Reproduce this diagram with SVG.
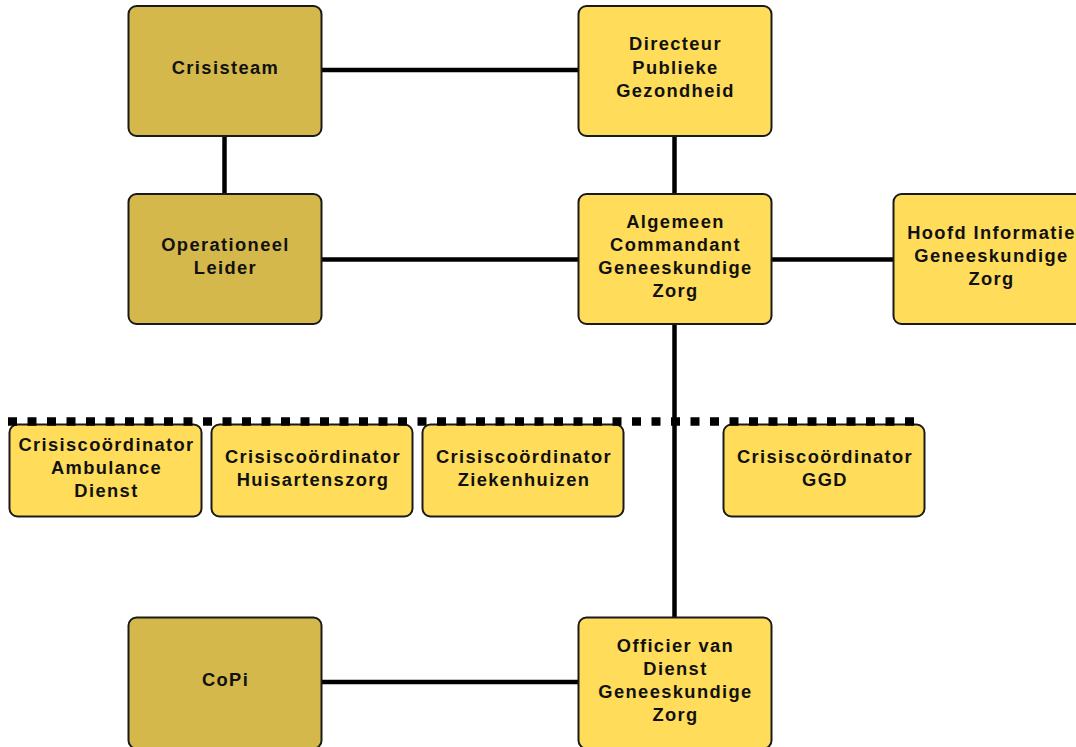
<svg xmlns="http://www.w3.org/2000/svg" width="1076" height="747" viewBox="0 0 1076 747">
<style>
.dark{fill:#d4b84b;stroke:#1a1a1a;stroke-width:2}
.light{fill:#ffdc59;stroke:#1a1a1a;stroke-width:2}
.t{font-family:"Liberation Sans",Arial,sans-serif;font-weight:bold;font-size:18.3px;letter-spacing:1.4px;fill:#111;text-anchor:middle}
.c{stroke:#000;stroke-width:4.5;fill:none}
.d{stroke:#000;stroke-width:8.5;fill:none;stroke-dasharray:9 10.5}
</style>
<rect width="1076" height="747" fill="#fff"/>
<g id="connectors">
<line class="c" x1="321" y1="70" x2="578" y2="70"/>
<line class="c" x1="224.5" y1="136" x2="224.5" y2="193"/>
<line class="c" x1="674.5" y1="136" x2="674.5" y2="193"/>
<line class="c" x1="321" y1="259.5" x2="578" y2="259.5"/>
<line class="c" x1="771" y1="259.5" x2="893" y2="259.5"/>
<line class="c" x1="674.5" y1="324" x2="674.5" y2="617"/>
<line class="c" x1="321" y1="682" x2="578" y2="682"/>
</g>
<g id="crisisteam"><rect class="dark" x="128.5" y="6" width="193" height="130" rx="8"/><text class="t" x="225.5" y="74">Crisisteam</text></g>
<g id="directeur"><rect class="light" x="578.5" y="6" width="193" height="130" rx="8"/><text class="t" x="675.5" y="50">Directeur</text><text class="t" x="675.5" y="73.5">Publieke</text><text class="t" x="675.5" y="96.5">Gezondheid</text></g>
<g id="operationeel"><rect class="dark" x="128.5" y="194" width="193" height="130" rx="8"/><text class="t" x="225.5" y="250.5">Operationeel</text><text class="t" x="225.5" y="273.5">Leider</text></g>
<g id="algemeen"><rect class="light" x="578.5" y="194" width="193" height="130" rx="8"/><text class="t" x="675.5" y="227.5">Algemeen</text><text class="t" x="675.5" y="250.5">Commandant</text><text class="t" x="675.5" y="273.5">Geneeskundige</text><text class="t" x="675.5" y="296.5">Zorg</text></g>
<g id="hoofd"><rect class="light" x="893.5" y="194" width="195" height="130" rx="8"/><text class="t" x="991.5" y="239">Hoofd Informatie</text><text class="t" x="991.5" y="262">Geneeskundige</text><text class="t" x="991.5" y="285">Zorg</text></g>
<g id="ambulance"><rect class="light" x="9.5" y="424.5" width="192" height="92" rx="8"/><text class="t" x="106.5" y="451">Crisiscoördinator</text><text class="t" x="106.5" y="474">Ambulance</text><text class="t" x="106.5" y="497">Dienst</text></g>
<g id="huisartenszorg"><rect class="light" x="211.5" y="424.5" width="201" height="92" rx="8"/><text class="t" x="313" y="462.5">Crisiscoördinator</text><text class="t" x="313" y="485.5">Huisartenszorg</text></g>
<g id="ziekenhuizen"><rect class="light" x="422.5" y="424.5" width="201" height="92" rx="8"/><text class="t" x="524" y="462.5">Crisiscoördinator</text><text class="t" x="524" y="485.5">Ziekenhuizen</text></g>
<g id="ggd"><rect class="light" x="723.5" y="424.5" width="201" height="92" rx="8"/><text class="t" x="825" y="462.5">Crisiscoördinator</text><text class="t" x="825" y="485.5">GGD</text></g>
<g id="copi"><rect class="dark" x="128.5" y="617.5" width="193" height="131" rx="8"/><text class="t" x="225.5" y="686">CoPi</text></g>
<g id="officier"><rect class="light" x="578.5" y="617.5" width="193" height="131" rx="8"/><text class="t" x="675.5" y="651.5">Officier van</text><text class="t" x="675.5" y="674.5">Dienst</text><text class="t" x="675.5" y="697.5">Geneeskundige</text><text class="t" x="675.5" y="720.5">Zorg</text></g>
<g id="dashed-line"><line class="d" x1="8" y1="421.5" x2="915" y2="421.5"/></g>
</svg>
